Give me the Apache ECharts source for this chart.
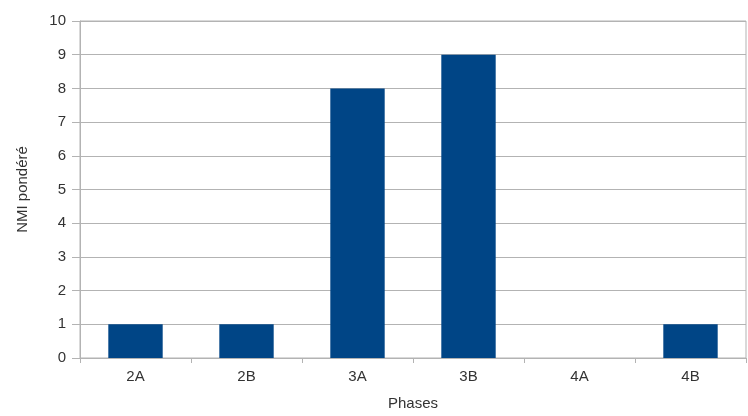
<!DOCTYPE html>
<html><head><meta charset="utf-8">
<script src="https://cdn.jsdelivr.net/npm/echarts@6/dist/echarts.min.js"></script>
<style>html,body{margin:0;padding:0;background:#fff}#c{width:748px;height:416px}</style>
</head><body><div id="c"></div>
<script>
const categories = ['2A','2B','3A','3B','4A','4B'];
const values = [1, 1, 8, 9, 0, 1];
const yTicks = {min: 0, max: 10, interval: 1};

const chart = echarts.init(document.getElementById('c'), null, {renderer: 'canvas'});
chart.setOption({
  animation: false,
  grid: {left: 80, right: 2, top: 21, bottom: 57, show: true, borderColor: '#b3b3b3', borderWidth: 1},
  xAxis: {
    type: 'category', data: categories,
    name: 'Phases', nameLocation: 'middle', nameGap: 38,
    nameTextStyle: {fontFamily: 'Liberation Sans', fontSize: 15, color: '#333'},
    axisLine: {lineStyle: {color: '#b3b3b3'}},
    axisTick: {show: true, length: 5, lineStyle: {color: '#b3b3b3'}},
    axisLabel: {fontFamily: 'Liberation Sans', fontSize: 15, color: '#333', margin: 11}
  },
  yAxis: {
    type: 'value', min: yTicks.min, max: yTicks.max, interval: yTicks.interval,
    name: 'NMI pondéré', nameLocation: 'middle', nameGap: 50,
    nameTextStyle: {fontFamily: 'Liberation Sans', fontSize: 15, color: '#333'},
    axisLine: {show: true, lineStyle: {color: '#b3b3b3'}},
    axisTick: {show: true, length: 8, lineStyle: {color: '#b3b3b3'}},
    axisLabel: {fontFamily: 'Liberation Sans', fontSize: 15, color: '#333', margin: 14},
    splitLine: {lineStyle: {color: '#b3b3b3'}}
  },
  series: [{
    type: 'bar', data: values, barWidth: '49%',
    itemStyle: {color: '#004586'}
  }]
});
</script></body></html>
